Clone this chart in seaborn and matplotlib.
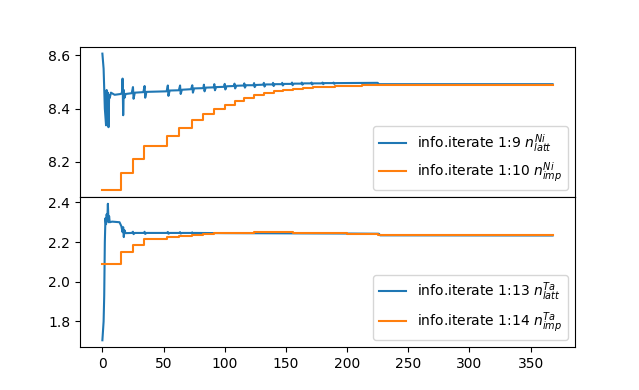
import matplotlib
matplotlib.use("Agg")
import matplotlib.pyplot as plt
import seaborn as sns

# ---- data ----

# Ni, lattice occupation (blue, top)
ni_latt_x = [0, 1, 2, 3, 3.5, 4, 4.5, 5, 5.5, 6, 7, 10, 15,
             16, 16.5, 17, 17.5, 18, 19, 24,
             25, 25.5, 26.5, 33.5,
             34.5, 35, 36, 52.5,
             53.5, 54, 55, 62.5,
             63.5, 64, 65, 72.5,
             73.5, 74, 75, 82.5,
             83, 83.5, 84.5, 91,
             91.5, 92, 93, 99.5,
             100, 100.5, 101.5, 107.5,
             108, 108.5, 109.5, 115.5,
             116, 116.5, 117.5, 123.5,
             124, 124.5, 125.5, 131.5,
             132, 132.5, 133.5, 139,
             139.5, 140, 141, 146.5,
             147, 147.5, 148.5, 154.5,
             155, 155.5, 156.5, 162.5,
             163, 163.5, 164.5, 170.5,
             171, 171.5, 172.5, 179,
             180, 180.5, 181.5, 188.5,
             189, 189.5, 190.5, 225, 226, 368]
ni_latt_y = [8.607, 8.55, 8.40, 8.337, 8.47, 8.34, 8.46, 8.33, 8.45, 8.44, 8.46, 8.452, 8.455,
             8.46, 8.513, 8.375, 8.47, 8.44, 8.455, 8.458,
             8.481, 8.437, 8.46, 8.462,
             8.485, 8.441, 8.463, 8.465,
             8.487, 8.448, 8.468, 8.469,
             8.487, 8.455, 8.471, 8.473,
             8.488, 8.460, 8.476, 8.477,
             8.490, 8.465, 8.479, 8.480,
             8.492, 8.469, 8.481, 8.482,
             8.493, 8.472, 8.484, 8.485,
             8.494, 8.476, 8.486, 8.487,
             8.495, 8.479, 8.488, 8.488,
             8.496, 8.481, 8.489, 8.490,
             8.497, 8.483, 8.491, 8.491,
             8.497, 8.485, 8.492, 8.492,
             8.497, 8.487, 8.493, 8.493,
             8.498, 8.488, 8.494, 8.494,
             8.498, 8.490, 8.495, 8.495,
             8.498, 8.491, 8.495, 8.495,
             8.498, 8.492, 8.496, 8.496,
             8.498, 8.493, 8.496, 8.497, 8.492, 8.492]

# Ni, impurity occupation (orange, top) - step function
ni_imp_x = [0, 15, 25, 34, 53, 63, 73, 82, 91, 100, 108, 116, 124, 132,
            140, 148, 156, 164, 172, 180, 190, 200, 212, 225, 368]
ni_imp_y = [8.093, 8.158, 8.212, 8.259, 8.296, 8.327, 8.356, 8.379, 8.400, 8.415,
            8.429, 8.441, 8.450, 8.459, 8.466, 8.471, 8.475, 8.478, 8.481, 8.483,
            8.485, 8.486, 8.487, 8.488, 8.488]

# Ta, lattice occupation (blue, bottom)
ta_latt_x = [0, 1, 1.5, 2, 2.5, 3, 3.5, 4, 4.5, 5, 5.5, 6, 8, 14,
             15.5, 16.5, 17, 17.5, 18, 19, 24,
             25, 25.5, 26.5, 34,
             34.5, 35, 36, 53,
             53.5, 54, 55, 63,
             63.5, 64, 65, 73,
             73.5, 74, 75, 100, 150, 200, 226, 227, 368]
ta_latt_y = [1.705, 1.80, 1.93, 2.20, 2.32, 2.29, 2.34, 2.31, 2.393, 2.30, 2.33, 2.30, 2.303, 2.30,
             2.28, 2.25, 2.275, 2.225, 2.26, 2.245, 2.246,
             2.252, 2.240, 2.246, 2.246,
             2.252, 2.241, 2.246, 2.246,
             2.251, 2.242, 2.246, 2.246,
             2.250, 2.243, 2.246, 2.246,
             2.249, 2.244, 2.246, 2.245, 2.244, 2.243, 2.242, 2.234, 2.233]

# Ta, impurity occupation (orange, bottom) - step function
ta_imp_x = [0, 15, 25, 34, 53, 63, 73, 82, 91, 100, 108, 116, 124, 132,
            140, 148, 156, 164, 172, 180, 190, 200, 212, 225, 250, 300, 368]
ta_imp_y = [2.088, 2.150, 2.187, 2.214, 2.226, 2.233, 2.238, 2.241, 2.244, 2.246,
            2.247, 2.248, 2.249, 2.249, 2.249, 2.249, 2.248, 2.247, 2.246, 2.245,
            2.244, 2.242, 2.240, 2.238, 2.236, 2.235, 2.235]

# ---- plot ----
fig, (ax1, ax2) = plt.subplots(2, 1, sharex=True, figsize=(6.39, 3.9), dpi=100)
fig.subplots_adjust(hspace=0)

sns.lineplot(x=ni_latt_x, y=ni_latt_y, ax=ax1, color="tab:blue",
             label=r"info.iterate 1:9 $n_{latt}^{Ni}$")
sns.lineplot(x=ni_imp_x, y=ni_imp_y, ax=ax1, color="tab:orange", drawstyle="steps-post",
             label=r"info.iterate 1:10 $n_{imp}^{Ni}$")

sns.lineplot(x=ta_latt_x, y=ta_latt_y, ax=ax2, color="tab:blue",
             label=r"info.iterate 1:13 $n_{latt}^{Ta}$")
sns.lineplot(x=ta_imp_x, y=ta_imp_y, ax=ax2, color="tab:orange", drawstyle="steps-post",
             label=r"info.iterate 1:14 $n_{imp}^{Ta}$")

ax1.set_yticks([8.2, 8.4, 8.6])
ax2.set_yticks([1.8, 2.0, 2.2, 2.4])
ax2.set_xticks([0, 50, 100, 150, 200, 250, 300, 350])

ax1.legend(loc="lower right")
ax2.legend(loc="lower right")

fig.savefig("out.png", dpi=100)
